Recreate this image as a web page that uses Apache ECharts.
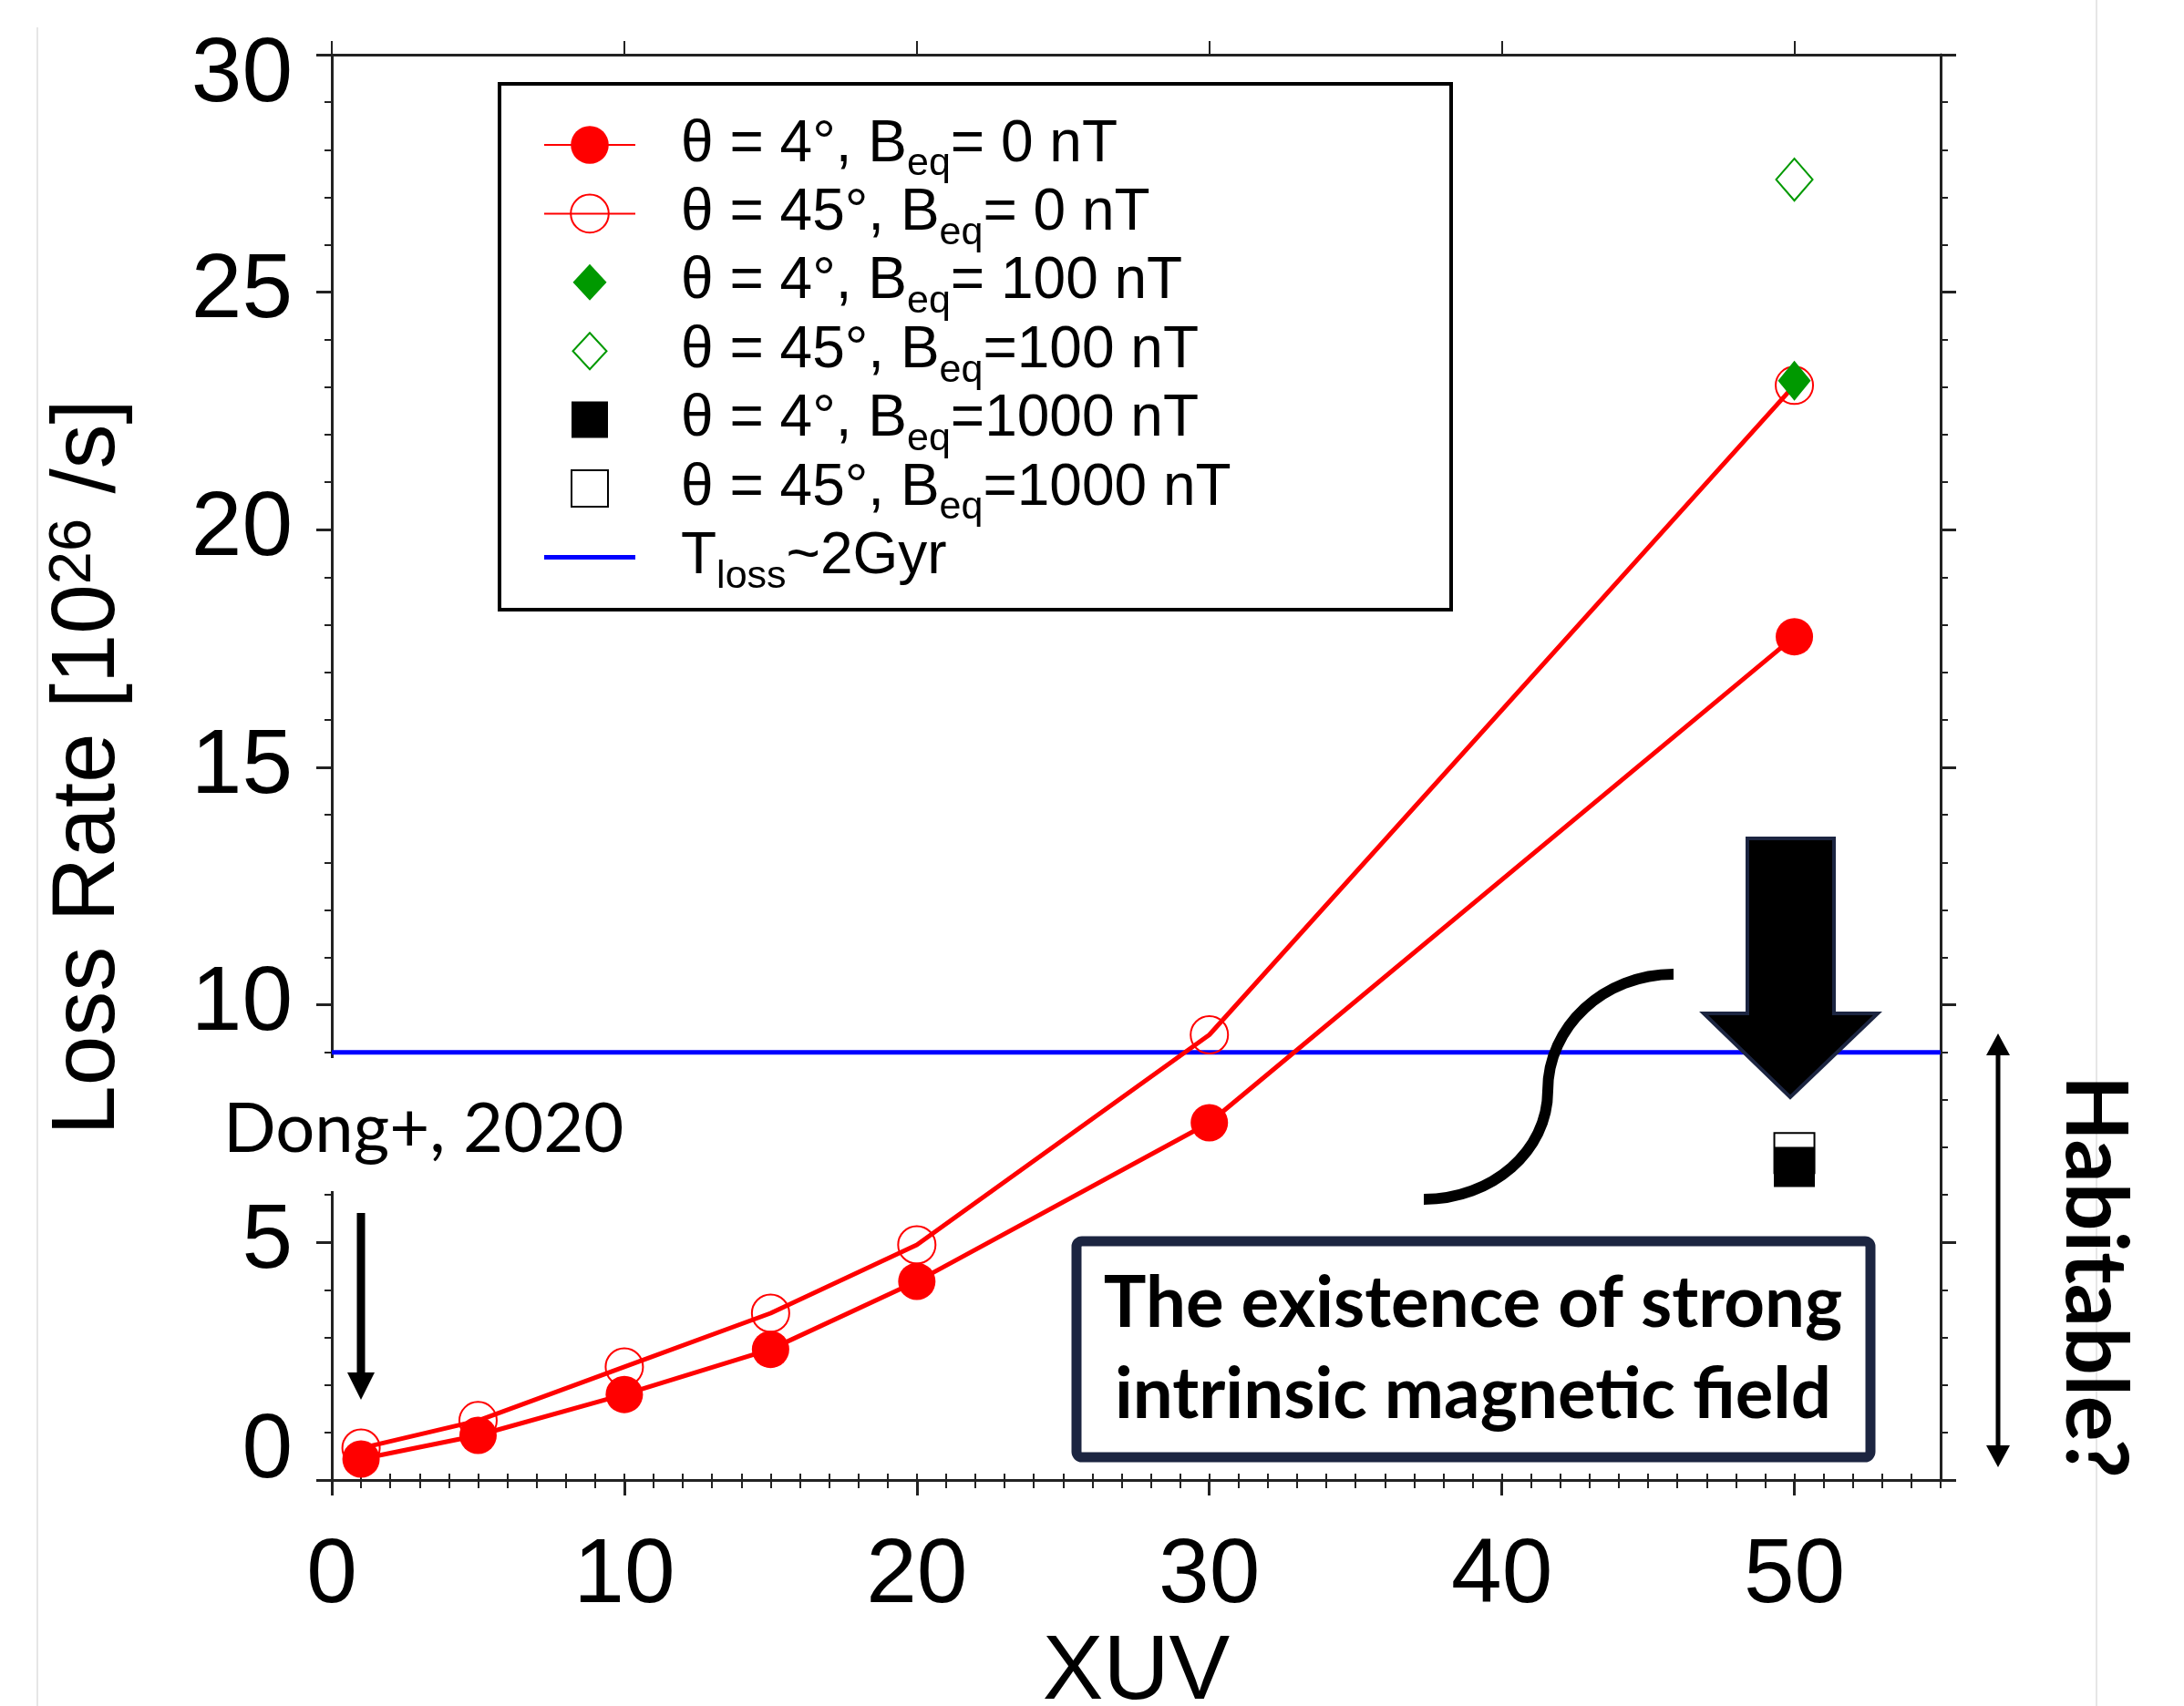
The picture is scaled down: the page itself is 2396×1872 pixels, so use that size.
<!DOCTYPE html>
<html><head><meta charset="utf-8">
<script src="https://cdn.jsdelivr.net/npm/echarts@6/dist/echarts.min.js"></script>
<style>html,body{margin:0;padding:0;background:#fff}#c{width:2396px;height:1872px}</style>
</head><body><div id="c"></div>
<script>
// ---- data ----
const xuv = [1, 5, 10, 15, 20, 30, 50];
const rateTheta4B0 = [0.44, 0.94, 1.8, 2.75, 4.18, 7.52, 17.75];
const rateTheta45B0 = [0.67, 1.25, 2.38, 3.51, 4.95, 9.37, 23.04];
const xuvStrong = [50];
const rateTheta4B100 = [23.14];
const rateTheta45B100 = [27.37];
const rateTheta4B1000 = [6.59];
const rateTheta45B1000 = [6.88];
const tLossLevel = 9.0;
const tLossRange = [0, 55];
const xTicks = [0, 10, 20, 30, 40, 50];
const yTicks = [0, 5, 10, 15, 20, 25, 30];
const seriesNames = ['θ = 4°, B_eq= 0 nT', 'θ = 45°, B_eq= 0 nT', 'θ = 4°, B_eq= 100 nT',
  'θ = 45°, B_eq=100 nT', 'θ = 4°, B_eq=1000 nT', 'θ = 45°, B_eq=1000 nT', 'T_loss~2Gyr'];

const pair = (xs, ys) => xs.map((x, i) => [x, ys[i]]);
const FONT = 'Liberation Sans';
const RED = '#ff0000', GREEN = '#009900', NAVY = '#1c2541';
const diamondIcon = 'path://M-26,-26M26,26M0,-20L18.5,0L0,20L-18.5,0Z';
const squareIcon = 'path://M-26,-26M26,26M-20,-20L20,-20L20,20L-20,20Z';
const barIcon = 'path://M0,0L100,0L100,5L0,5Z';

const chart = echarts.init(document.getElementById('c'), null, {renderer: 'canvas'});
const axisLineStyle = {color: '#222', width: 3};

const option = {
  animation: false,
  backgroundColor: '#fff',
  grid: {left: 364, right: 267, top: 60, bottom: 248, containLabel: false, outerBoundsMode: 'none'},
  xAxis: [
    {type: 'value', position: 'bottom', min: 0, max: 55, interval: 10,
     axisLine: {show: true, onZero: false, lineStyle: axisLineStyle},
     axisTick: {show: true, inside: false, length: 17, customValues: xTicks, lineStyle: {color: '#222', width: 3}},
     axisLabel: {show: true, customValues: xTicks, margin: 56, fontSize: 100, fontFamily: FONT, color: '#000'},
     splitLine: {show: false},
     name: 'XUV', nameLocation: 'middle', nameGap: 162,
     nameTextStyle: {fontSize: 100, fontFamily: FONT, color: '#000'}},
    {type: 'value', position: 'bottom', min: 0, max: 55, interval: 1,
     axisLine: {show: false}, axisTick: {show: true, length: 9, lineStyle: {color: '#222', width: 2}},
     axisLabel: {show: false}, splitLine: {show: false}},
    {type: 'value', position: 'top', min: 0, max: 55, interval: 10,
     axisLine: {show: true, onZero: false, lineStyle: axisLineStyle},
     axisTick: {show: true, length: 15, customValues: xTicks, lineStyle: {color: '#222', width: 2}},
     axisLabel: {show: false}, splitLine: {show: false}},
    {type: 'value', position: 'top', min: 0, max: 55, interval: 1,
     axisLine: {show: false}, axisTick: {show: true, length: 7, lineStyle: {color: '#222', width: 2}},
     axisLabel: {show: false}, splitLine: {show: false}}
  ],
  yAxis: [
    {type: 'value', position: 'left', min: 0, max: 30, interval: 5,
     axisLine: {show: true, onZero: false, lineStyle: axisLineStyle},
     axisTick: {show: true, length: 17, lineStyle: {color: '#222', width: 3}},
     minorTick: {show: true, splitNumber: 5, length: 8, lineStyle: {color: '#222', width: 2}},
     axisLabel: {show: true, margin: 43, fontSize: 100, fontFamily: FONT, color: '#000',
       formatter: v => v === 0 ? '{b|0}' : (v === 30 ? '{t|30}' : String(v)),
       rich: {b: {fontSize: 100, fontFamily: FONT, color: '#000', padding: [0, 0, 62, 0]},
              t: {fontSize: 100, fontFamily: FONT, color: '#000', padding: [46, 0, 0, 0]}}},
     splitLine: {show: false},
     name: '{m|Loss Rate [10}{u|26}{m| /s]}', nameLocation: 'middle', nameGap: 217,
     nameTextStyle: {rich: {
       m: {fontSize: 98, fontFamily: FONT, color: '#000', verticalAlign: 'bottom', lineHeight: 98},
       u: {fontSize: 65, fontFamily: FONT, color: '#000', verticalAlign: 'top', lineHeight: 65, padding: [0, 0, 50, 0]}}}},
    {type: 'value', position: 'right', min: 0, max: 30, interval: 5,
     axisLine: {show: true, onZero: false, lineStyle: axisLineStyle},
     axisTick: {show: true, length: 17, lineStyle: {color: '#222', width: 3}},
     minorTick: {show: true, splitNumber: 5, length: 8, lineStyle: {color: '#222', width: 2}},
     axisLabel: {show: false}, splitLine: {show: false}}
  ],
  legend: {
    orient: 'vertical', left: 596, top: 127, padding: 0, itemGap: 0.4,
    itemWidth: 100, itemHeight: 52, selectedMode: false,
    data: [
      {name: seriesNames[0]}, {name: seriesNames[1]},
      {name: seriesNames[2], icon: diamondIcon}, {name: seriesNames[3], icon: diamondIcon},
      {name: seriesNames[4], icon: squareIcon}, {name: seriesNames[5], icon: squareIcon},
      {name: seriesNames[6], icon: barIcon}
    ],
    formatter: name => name.replace(/^(.*?)_(eq|loss)(.*)$/, '{p|$1}{s|$2}{m|$3}'),
    textStyle: {rich: {
      p: {fontSize: 64, fontFamily: FONT, color: '#000', verticalAlign: 'top', lineHeight: 64, padding: [0, 0, 0, 45]},
      m: {fontSize: 64, fontFamily: FONT, color: '#000', verticalAlign: 'top', lineHeight: 64},
      s: {fontSize: 43, fontFamily: FONT, color: '#000', verticalAlign: 'top', lineHeight: 43, padding: [32, 0, 0, 0]}
    }}
  },
  series: [
    {name: seriesNames[0], type: 'line', z: 3, silent: true, data: pair(xuv, rateTheta4B0),
     symbol: 'circle', symbolSize: 41, showSymbol: true,
     lineStyle: {color: RED, width: 5}, itemStyle: {color: RED, borderWidth: 0, opacity: 1}},
    {name: seriesNames[1], type: 'line', z: 2, silent: true, data: pair(xuv, rateTheta45B0),
     symbol: 'circle', symbolSize: 41, showSymbol: true,
     lineStyle: {color: RED, width: 5}, itemStyle: {color: 'rgba(255,255,255,0)', borderColor: RED, borderWidth: 2, opacity: 1}},
    {name: seriesNames[2], type: 'scatter', z: 4, silent: true, data: pair(xuvStrong, rateTheta4B100),
     symbol: 'diamond', symbolSize: [36, 44], itemStyle: {color: GREEN, opacity: 1}},
    {name: seriesNames[3], type: 'scatter', z: 4, silent: true, data: pair(xuvStrong, rateTheta45B100),
     symbol: 'diamond', symbolSize: [40, 46], itemStyle: {color: '#fff', borderColor: GREEN, borderWidth: 2, opacity: 1}},
    {name: seriesNames[4], type: 'scatter', z: 5, silent: true, data: pair(xuvStrong, rateTheta4B1000),
     symbol: 'rect', symbolSize: [45, 44], itemStyle: {color: '#000', opacity: 1}},
    {name: seriesNames[5], type: 'scatter', z: 4, silent: true, data: pair(xuvStrong, rateTheta45B1000),
     symbol: 'rect', symbolSize: [44, 44], itemStyle: {color: '#fff', borderColor: '#000', borderWidth: 2, opacity: 1}},
    {name: seriesNames[6], type: 'line', z: 1, silent: true,
     data: tLossRange.map(x => [x, tLossLevel]), symbol: 'none', color: '#0000ff',
     lineStyle: {color: '#0000ff', width: 5}, itemStyle: {color: '#0000ff', borderWidth: 0}}
  ],
  graphic: [
    {type: 'line', z: 0, silent: true, shape: {x1: 41, y1: 30, x2: 41, y2: 1872}, style: {stroke: '#e6e6e6', lineWidth: 2}},
    {type: 'line', z: 0, silent: true, shape: {x1: 2300, y1: 0, x2: 2300, y2: 1872}, style: {stroke: '#e6e6e6', lineWidth: 2}},
    {type: 'rect', z: 50, silent: true, shape: {x: 548, y: 92, width: 1044, height: 577}, style: {fill: 'none', stroke: '#000', lineWidth: 4}},
    {type: 'rect', z: 50, silent: true, shape: {x: 200, y: 1161, width: 500, height: 146}, style: {fill: '#fff'}},
    {type: 'text', z: 51, silent: true, x: 245, y: 1239, style: {text: 'Dong+, 2020', font: '76px Lato', fill: '#000', textAlign: 'left', textVerticalAlign: 'middle'}},
    {type: 'line', z: 51, silent: true, shape: {x1: 396, y1: 1331, x2: 396, y2: 1510}, style: {stroke: '#000', lineWidth: 9}},
    {type: 'polygon', z: 51, silent: true, shape: {points: [[381, 1506], [411, 1506], [396, 1536]]}, style: {fill: '#000'}},
    {type: 'bezierCurve', z: 51, silent: true, shape: {x1: 1562, y1: 1316, cpx1: 1637, cpy1: 1316, cpx2: 1698, cpy2: 1263, x2: 1698, y2: 1197}, style: {stroke: '#000', lineWidth: 12, fill: 'none', lineCap: 'butt'}},
    {type: 'bezierCurve', z: 51, silent: true, shape: {x1: 1698, y1: 1197, cpx1: 1698, cpy1: 1126, cpx2: 1760, cpy2: 1069, x2: 1836, y2: 1069}, style: {stroke: '#000', lineWidth: 12, fill: 'none', lineCap: 'butt'}},
    {type: 'polygon', z: 51, silent: true, shape: {points: [[1917, 920], [2012, 920], [2012, 1112], [2060, 1112], [1964, 1204], [1869, 1112], [1917, 1112]]}, style: {fill: '#000', stroke: NAVY, lineWidth: 4}},
    {type: 'rect', z: 50, silent: true, shape: {x: 1181, y: 1362, width: 871, height: 237, r: 6}, style: {fill: '#fff', stroke: NAVY, lineWidth: 11}},
    {type: 'text', z: 51, silent: true, x: 1616, y: 1431, style: {text: 'The existence of strong', font: 'bold 78px Lato', fill: '#000', textAlign: 'center', textVerticalAlign: 'middle'}},
    {type: 'text', z: 51, silent: true, x: 1616, y: 1531, style: {text: 'intrinsic magnetic field', font: 'bold 78px Lato', fill: '#000', textAlign: 'center', textVerticalAlign: 'middle'}},
    {type: 'line', z: 51, silent: true, shape: {x1: 2192, y1: 1152, x2: 2192, y2: 1592}, style: {stroke: '#000', lineWidth: 5}},
    {type: 'polygon', z: 51, silent: true, shape: {points: [[2179, 1158], [2205, 1158], [2192, 1134]]}, style: {fill: '#000'}},
    {type: 'polygon', z: 51, silent: true, shape: {points: [[2179, 1586], [2205, 1586], [2192, 1610]]}, style: {fill: '#000'}},
    {type: 'text', z: 51, silent: true, x: 2297, y: 1401, rotation: -Math.PI / 2, style: {text: 'Habitable?', font: 'bold 93px Lato', fill: '#000', textAlign: 'center', textVerticalAlign: 'middle'}}
  ]
};
chart.setOption(option);
</script>
</body></html>
